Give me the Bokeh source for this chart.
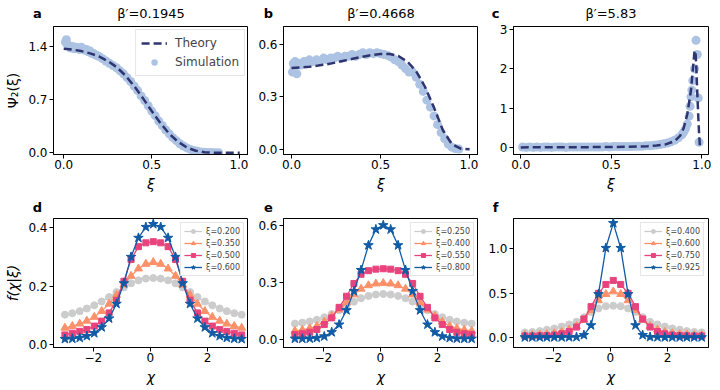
from bokeh.plotting import figure
from bokeh.layouts import column, row
from bokeh.models import Range1d, FixedTicker, Label, Legend, LegendItem
from bokeh.embed import file_html
from bokeh.resources import INLINE

FONT = "DejaVu Sans"

# ---------------- top row data ----------------
theory_a_xi = [0.0, 0.05, 0.1, 0.15, 0.2, 0.25, 0.3, 0.35, 0.4, 0.45, 0.5, 0.55, 0.6, 0.65, 0.7, 0.75, 0.8, 0.85, 0.9, 0.95, 1.0]
theory_a = [1.37, 1.36, 1.34, 1.31, 1.27, 1.21, 1.13, 1.02, 0.88, 0.72, 0.55, 0.39, 0.25, 0.145, 0.07, 0.028, 0.008, 0.002, 0.0, 0.0, 0.0]
sim_a_xi = [0.01, 0.015, 0.02, 0.03, 0.04, 0.05, 0.06, 0.07, 0.08, 0.09, 0.10, 0.11, 0.12, 0.13, 0.14, 0.15, 0.16,
            0.17, 0.18, 0.19, 0.20, 0.22, 0.24, 0.26, 0.28, 0.30, 0.32, 0.34, 0.36, 0.38, 0.40, 0.42, 0.44, 0.46,
            0.48, 0.50, 0.52, 0.54, 0.56, 0.58, 0.60, 0.62, 0.64, 0.66, 0.68, 0.70, 0.72, 0.74, 0.76, 0.78, 0.80,
            0.82, 0.84, 0.86, 0.88]
sim_a = [1.46, 1.49, 1.43, 1.41, 1.38, 1.40, 1.37, 1.39, 1.38, 1.36, 1.39, 1.37, 1.35, 1.36, 1.33, 1.34, 1.31,
         1.31, 1.29, 1.28, 1.27, 1.24, 1.21, 1.18, 1.15, 1.12, 1.08, 1.04, 0.99, 0.94, 0.88, 0.82, 0.75, 0.69,
         0.62, 0.55, 0.49, 0.42, 0.36, 0.30, 0.25, 0.20, 0.16, 0.12, 0.09, 0.065, 0.045, 0.03, 0.02, 0.012, 0.008,
         0.005, 0.003, 0.002, 0.001]

theory_b_xi = [0.0, 0.05, 0.1, 0.15, 0.2, 0.25, 0.3, 0.35, 0.4, 0.45, 0.5, 0.55, 0.6, 0.65, 0.7, 0.75, 0.8, 0.85, 0.9, 0.95, 1.0]
theory_b = [0.463, 0.466, 0.470, 0.477, 0.485, 0.495, 0.506, 0.517, 0.528, 0.537, 0.543, 0.543, 0.532, 0.500, 0.445, 0.355, 0.238, 0.108, 0.030, 0.003, 0.0]
sim_b_xi = [0.005, 0.01, 0.015, 0.02, 0.025, 0.03, 0.04, 0.05, 0.06, 0.07, 0.08, 0.09, 0.10, 0.12, 0.14, 0.16, 0.18,
            0.20, 0.22, 0.24, 0.26, 0.28, 0.30, 0.32, 0.34, 0.36, 0.38, 0.40, 0.42, 0.44, 0.46, 0.48, 0.50, 0.52,
            0.54, 0.56, 0.58, 0.60, 0.62, 0.64, 0.66, 0.68, 0.70, 0.72, 0.74, 0.76, 0.78, 0.80, 0.82, 0.84, 0.86,
            0.88, 0.90, 0.92, 0.94]
sim_b = [0.44, 0.49, 0.47, 0.50, 0.48, 0.43, 0.49, 0.48, 0.49, 0.50, 0.49, 0.50, 0.51, 0.50, 0.51, 0.50, 0.52,
         0.51, 0.52, 0.52, 0.53, 0.52, 0.53, 0.53, 0.54, 0.53, 0.54, 0.55, 0.54, 0.55, 0.545, 0.55, 0.545, 0.54,
         0.535, 0.525, 0.51, 0.50, 0.48, 0.46, 0.44, 0.44, 0.41, 0.37, 0.33, 0.28, 0.24, 0.19, 0.14, 0.095, 0.06,
         0.03, 0.012, 0.004, 0.001]

theory_c_xi = [0.0, 0.1, 0.2, 0.3, 0.4, 0.5, 0.6, 0.7, 0.75, 0.8, 0.85, 0.88, 0.9, 0.92, 0.94, 0.95, 0.96, 0.965,
               0.97, 0.975, 0.98, 0.985, 0.99]
theory_c = [0.01, 0.012, 0.013, 0.015, 0.017, 0.02, 0.026, 0.04, 0.055, 0.085, 0.17, 0.3, 0.5, 0.85, 1.45, 1.95,
            2.45, 2.45, 2.0, 1.4, 0.85, 0.35, 0.0]
sim_c_xi = [0.01, 0.03, 0.05, 0.07, 0.09, 0.11, 0.13, 0.15, 0.17, 0.19, 0.21, 0.23, 0.25, 0.27, 0.29, 0.31, 0.33,
            0.35, 0.37, 0.39, 0.41, 0.43, 0.45, 0.47, 0.49, 0.51, 0.53, 0.55, 0.57, 0.59, 0.61, 0.63, 0.65, 0.67,
            0.69, 0.71, 0.73, 0.75, 0.77, 0.79, 0.81, 0.83, 0.85, 0.87, 0.89, 0.90, 0.91, 0.92, 0.93, 0.935, 0.94,
            0.945, 0.95, 0.96, 0.968, 0.975, 0.98, 0.985]
sim_c = [0.02, 0.01, 0.02, 0.01, 0.02, 0.01, 0.02, 0.02, 0.01, 0.02, 0.02, 0.02, 0.01, 0.02, 0.02, 0.02, 0.02,
         0.02, 0.02, 0.02, 0.02, 0.02, 0.02, 0.03, 0.02, 0.03, 0.03, 0.03, 0.03, 0.03, 0.03, 0.04, 0.04, 0.04,
         0.05, 0.05, 0.06, 0.07, 0.08, 0.10, 0.12, 0.15, 0.19, 0.25, 0.33, 0.40, 0.48, 0.60, 0.80, 1.05, 1.29,
         1.46, 1.70, 2.0, 2.72, 2.36, 1.26, 0.14]

top_titles = ["β′=0.1945", "β′=0.4668", "β′=5.83"]
top_letters = ["a", "b", "c"]
bot_letters = ["d", "e", "f"]

# ---------------- bottom row data ----------------
chi = [-3.00, -2.74, -2.48, -2.23, -1.97, -1.71, -1.45, -1.19, -0.93, -0.68, -0.42, -0.16, 0.10,
       0.36, 0.62, 0.88, 1.13, 1.39, 1.65, 1.91, 2.17, 2.43, 2.68, 2.94, 3.20]

d_labels = ["ξ=0.200", "ξ=0.350", "ξ=0.500", "ξ=0.600"]
d_series = [
    [0.103, 0.108, 0.115, 0.124, 0.135, 0.148, 0.163, 0.180, 0.196, 0.210, 0.220, 0.226, 0.228,
     0.226, 0.220, 0.210, 0.196, 0.180, 0.163, 0.148, 0.135, 0.124, 0.115, 0.108, 0.103],
    [0.058, 0.064, 0.072, 0.082, 0.095, 0.115, 0.140, 0.170, 0.205, 0.235, 0.260, 0.276, 0.282,
     0.276, 0.260, 0.235, 0.205, 0.170, 0.140, 0.115, 0.095, 0.082, 0.072, 0.064, 0.058],
    [0.034, 0.040, 0.046, 0.052, 0.064, 0.081, 0.109, 0.152, 0.217, 0.291, 0.335, 0.348, 0.352,
     0.348, 0.335, 0.291, 0.217, 0.152, 0.109, 0.081, 0.064, 0.052, 0.046, 0.040, 0.034],
    [0.020, 0.021, 0.024, 0.030, 0.040, 0.060, 0.090, 0.140, 0.210, 0.300, 0.365, 0.402, 0.412,
     0.402, 0.365, 0.300, 0.210, 0.140, 0.090, 0.060, 0.040, 0.030, 0.024, 0.021, 0.020],
]

e_labels = ["ξ=0.250", "ξ=0.400", "ξ=0.550", "ξ=0.800"]
e_series = [
    [0.085, 0.090, 0.096, 0.105, 0.118, 0.135, 0.155, 0.178, 0.200, 0.218, 0.230, 0.237, 0.240,
     0.237, 0.230, 0.218, 0.200, 0.178, 0.155, 0.135, 0.118, 0.105, 0.096, 0.090, 0.085],
    [0.047, 0.052, 0.060, 0.072, 0.095, 0.125, 0.158, 0.194, 0.237, 0.267, 0.285, 0.294, 0.297,
     0.294, 0.285, 0.267, 0.237, 0.194, 0.158, 0.125, 0.095, 0.072, 0.060, 0.052, 0.047],
    [0.028, 0.032, 0.040, 0.054, 0.080, 0.115, 0.170, 0.228, 0.295, 0.343, 0.362, 0.370, 0.372,
     0.370, 0.362, 0.343, 0.295, 0.228, 0.170, 0.115, 0.080, 0.054, 0.040, 0.032, 0.028],
    [0.006, 0.006, 0.007, 0.010, 0.018, 0.040, 0.080, 0.155, 0.255, 0.365, 0.495, 0.578, 0.600,
     0.578, 0.495, 0.365, 0.255, 0.155, 0.080, 0.040, 0.018, 0.010, 0.007, 0.006, 0.006],
]

f_labels = ["ξ=0.400", "ξ=0.600", "ξ=0.750", "ξ=0.925"]
f_series = [
    [0.060, 0.065, 0.075, 0.090, 0.105, 0.125, 0.150, 0.180, 0.230, 0.290, 0.330, 0.355, 0.360,
     0.355, 0.330, 0.290, 0.230, 0.180, 0.150, 0.125, 0.105, 0.090, 0.075, 0.065, 0.060],
    [0.030, 0.030, 0.035, 0.040, 0.050, 0.065, 0.090, 0.130, 0.200, 0.310, 0.420, 0.490, 0.520,
     0.490, 0.420, 0.310, 0.200, 0.130, 0.090, 0.065, 0.050, 0.040, 0.035, 0.030, 0.030],
    [0.020, 0.020, 0.022, 0.025, 0.032, 0.045, 0.070, 0.120, 0.210, 0.350, 0.500, 0.600, 0.645,
     0.600, 0.500, 0.350, 0.210, 0.120, 0.070, 0.045, 0.032, 0.025, 0.022, 0.020, 0.020],
    [0.005, 0.005, 0.005, 0.005, 0.005, 0.005, 0.006, 0.008, 0.030, 0.140, 0.490, 1.010, 1.290,
     1.010, 0.490, 0.140, 0.030, 0.008, 0.006, 0.005, 0.005, 0.005, 0.005, 0.005, 0.005],
]

SERIES_COLORS = ["#cccccc", "#fc9069", "#e8437c", "#105ba4"]
SERIES_MARKERS = ["circle", "triangle", "square", "star"]
SERIES_SIZES = [7, 8, 6, 10]
THEORY_COLOR = "#2e3571"
SIM_COLOR = "#adc3e3"

FW = 195
TOP_FH = 128
BOT_FH = 129
LEFT_BORDERS = [53, 35, 35]
RIGHT_BORDERS = [0, 0, 4]
FIG_W = [l + FW + r for l, r in zip(LEFT_BORDERS, RIGHT_BORDERS)]
TOTAL_W = sum(FIG_W)
LETTER_DX = [16, 15, 18]
TOP_STRIP_H, TOP_BORDER = 21, 5
BOT_STRIP_H, BOT_BORDER = 22, 2


def style(p, xticks, xlabels, yticks, ylabels, xlabel, ylabel, ylabel_style):
    p.xgrid.visible = False
    p.ygrid.visible = False
    p.outline_line_color = "black"
    p.outline_line_width = 1
    p.background_fill_color = "white"
    p.border_fill_color = "white"
    for ax, ticks, labels in ((p.xaxis[0], xticks, xlabels), (p.yaxis[0], yticks, ylabels)):
        ax.ticker = FixedTicker(ticks=ticks)
        ax.major_label_overrides = {t: l for t, l in zip(ticks, labels)}
        ax.minor_tick_line_color = None
        ax.major_tick_in = 0
        ax.major_tick_out = 4
        ax.major_tick_line_color = "black"
        ax.axis_line_color = "black"
        ax.major_label_text_font = FONT
        ax.major_label_text_font_size = "12px"
        ax.major_label_text_color = "black"
        ax.major_label_standoff = 2
        ax.axis_label_text_font = FONT
        ax.axis_label_text_font_size = "14px"
        ax.axis_label_text_font_style = "normal"
        ax.axis_label_text_color = "black"
        ax.axis_label_standoff = 4
    p.xaxis[0].major_label_standoff = 1
    p.xaxis[0].axis_label = xlabel
    p.xaxis[0].axis_label_text_font_style = "italic"
    if ylabel:
        p.yaxis[0].axis_label = ylabel
        p.yaxis[0].axis_label_text_font_style = ylabel_style


def make_strip(height, letters, letter_y, titles, title_y):
    # a thin, axis-less strip above a row of panels that carries the panel letters and titles
    s = figure(width=TOTAL_W, height=height, output_backend="svg", toolbar_location=None,
               x_range=Range1d(0, TOTAL_W), y_range=Range1d(0, height),
               x_axis_location=None, y_axis_location=None, min_border=0,
               min_border_left=0, min_border_right=0, min_border_top=0, min_border_bottom=0)
    s.outline_line_color = None
    s.xgrid.visible = False
    s.ygrid.visible = False
    s.background_fill_color = "white"
    s.border_fill_color = "white"
    left = 0
    for i, letter in enumerate(letters):
        frame_left = left + LEFT_BORDERS[i]
        s.add_layout(Label(x=frame_left - LETTER_DX[i], y=height - letter_y, text=letter, text_font=FONT,
                           text_font_size="13px", text_font_style="bold", text_color="black",
                           text_align="center", text_baseline="middle"))
        if titles:
            s.add_layout(Label(x=frame_left + FW / 2, y=height - title_y, text=titles[i], text_font=FONT,
                               text_font_size="13px", text_font_style="normal", text_color="black",
                               text_align="center", text_baseline="middle"))
        left += FIG_W[i]
    return s


def make_top(i, xr, yr, xi_t, v_t, xi_s, v_s, yticks, ylabels, ylabel, legend):
    p = figure(frame_width=FW, frame_height=TOP_FH, output_backend="svg", toolbar_location=None,
               x_range=Range1d(*xr), y_range=Range1d(*yr),
               min_border_left=LEFT_BORDERS[i], min_border_right=RIGHT_BORDERS[i],
               min_border_top=TOP_BORDER, min_border_bottom=40)
    r_sim = p.scatter(xi_s, v_s, size=9, color=SIM_COLOR, line_color=None)
    r_th = p.line(xi_t, v_t, line_color=THEORY_COLOR, line_width=2.5, line_dash="8 4")
    style(p, [0, 0.5, 1.0], ["0.0", "0.5", "1.0"], yticks, ylabels, "ξ", ylabel, "normal")
    if legend:
        lg = Legend(items=[LegendItem(label="Theory", renderers=[r_th]),
                           LegendItem(label="Simulation", renderers=[r_sim])],
                    location="top_right", label_text_font=FONT, label_text_font_size="12px",
                    glyph_width=26, glyph_height=16, label_height=16, spacing=3, padding=5,
                    margin=3, border_line_color="#cccccc", border_line_width=1,
                    background_fill_alpha=0.85, label_standoff=8)
        p.add_layout(lg)
    return p


def make_bot(i, yr, series, labels, yticks, ylabels, ylabel):
    p = figure(frame_width=FW, frame_height=BOT_FH, output_backend="svg", toolbar_location=None,
               x_range=Range1d(-3.4, 3.44), y_range=Range1d(*yr),
               min_border_left=LEFT_BORDERS[i], min_border_right=RIGHT_BORDERS[i],
               min_border_top=BOT_BORDER, min_border_bottom=35)
    items = []
    for vals, lab, col, mk, sz in zip(series, labels, SERIES_COLORS, SERIES_MARKERS, SERIES_SIZES):
        rl = p.line(chi, vals, line_color=col, line_width=1.3)
        rs = p.scatter(chi, vals, marker=mk, size=sz, fill_color=col, line_color=col)
        items.append(LegendItem(label=lab, renderers=[rl, rs]))
    style(p, [-2, 0, 2], ["−2", "0", "2"], yticks, ylabels, "χ", ylabel, "italic")
    lg = Legend(items=items, location="top_right", label_text_font=FONT, label_text_font_size="8px",
                glyph_width=18, glyph_height=10, label_height=10, spacing=2, padding=3, margin=4,
                border_line_color="#cccccc", border_line_width=1, label_standoff=4,
                background_fill_alpha=0.85)
    p.add_layout(lg)
    return p


pa = make_top(0, (-0.058, 1.05), (-0.022, 1.664), theory_a_xi, theory_a, sim_a_xi, sim_a,
              [0, 0.7, 1.4], ["0.0", "0.7", "1.4"], "Ψ₂(ξ)", True)
pb = make_top(1, (-0.045, 1.05), (-0.03, 0.70), theory_b_xi, theory_b, sim_b_xi, sim_b,
              [0, 0.3, 0.6], ["0.0", "0.3", "0.6"], None, False)
pc = make_top(2, (-0.04, 1.037), (-0.17, 3.07), theory_c_xi, theory_c, sim_c_xi, sim_c,
              [0, 1, 2, 3], ["0", "1", "2", "3"], None, False)

pd = make_bot(0, (-0.009, 0.431), d_series, d_labels, [0, 0.2, 0.4], ["0.0", "0.2", "0.4"], "f(χ|ξ)")
pe = make_bot(1, (-0.04, 0.635), e_series, e_labels, [0, 0.3, 0.6], ["0.0", "0.3", "0.6"], None)
pf = make_bot(2, (-0.11, 1.342), f_series, f_labels, [0, 0.5, 1.0], ["0.0", "0.5", "1.0"], None)

strip_top = make_strip(TOP_STRIP_H, top_letters, 13.3, top_titles, 13.3)
strip_bot = make_strip(BOT_STRIP_H, bot_letters, 13.0, None, 0)

layout = column(strip_top, row(pa, pb, pc), strip_bot, row(pd, pe, pf))

open("out.html", "w").write(file_html(layout, INLINE))
